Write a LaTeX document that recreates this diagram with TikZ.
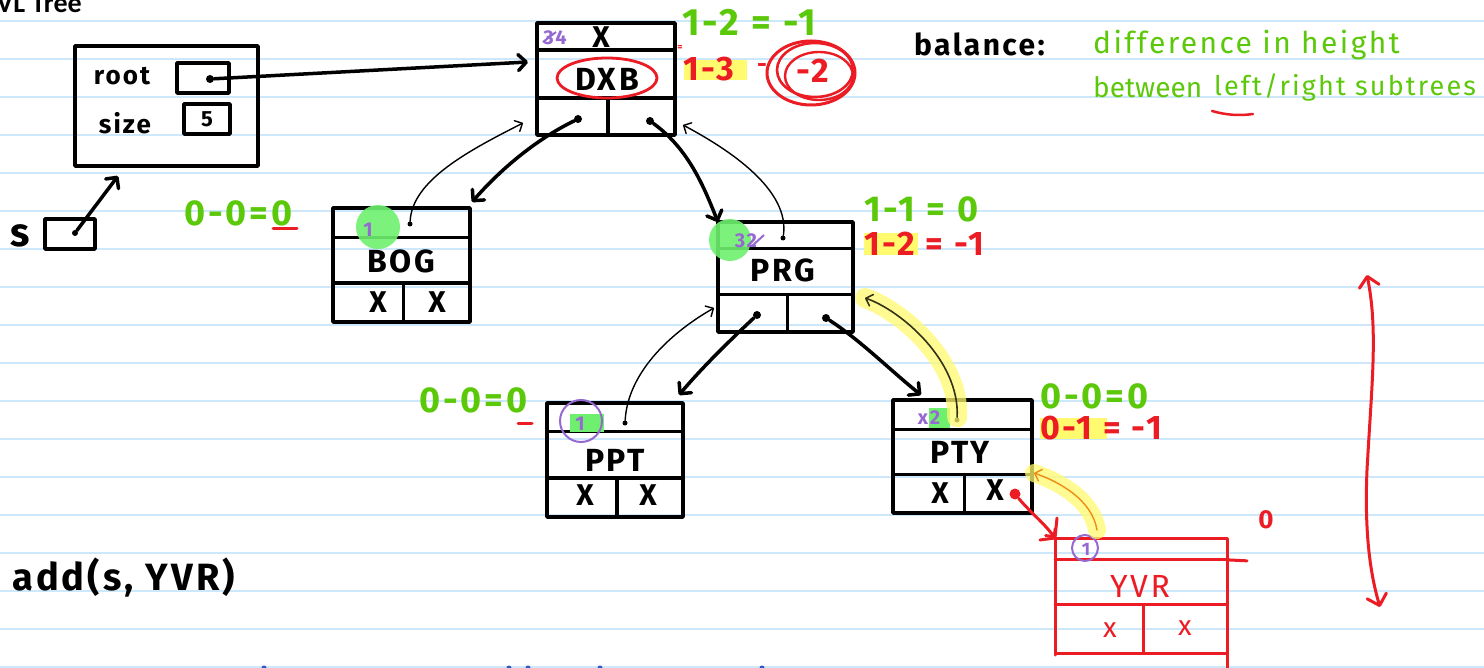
\documentclass[tikz,border=0pt]{standalone}
\usepackage{fontspec}
\setmainfont{Fira Sans}
\newfontfamily\hand{Fira Sans}[LetterSpace=8.0]
\newfontfamily\titlefont{Carlito}
\usetikzlibrary{calc,arrows.meta}

\definecolor{inkgreen}{RGB}{92,200,10}
\definecolor{inkred}{RGB}{236,28,36}
\definecolor{inkpurple}{RGB}{150,105,210}
\definecolor{inkorange}{RGB}{240,140,20}
\definecolor{inkblue}{RGB}{40,90,200}
\definecolor{hlyellow}{RGB}{255,250,110}
\definecolor{hlgreen}{RGB}{110,240,110}
\definecolor{ruled}{RGB}{205,232,250}

\newcommand\hw[1]{\hand\fontsize{#1}{#1}\selectfont}

\tikzset{
  ink/.style={line width=3.5pt, line cap=round, line join=round},
  blackbox/.style={draw=black, ink},
  redbox/.style={draw=inkred, line width=3pt, line cap=round, line join=round},
  thinink/.style={line width=1.4pt, line cap=round},
  barb/.style={-{Straight Barb[length=8pt,width=16pt,round]}},
  smallbarb/.style={-{Straight Barb[length=6pt,width=12pt,round]}},
  dot/.style={circle, fill, inner sep=0pt, minimum size=8pt},
  pin/.style={circle, fill, inner sep=0pt, minimum size=5pt},
  txt/.style={inner sep=0pt},
  nullx/.style={txt, font=\bfseries\hw{30}},
  geq/.style={txt, anchor=west, text=inkgreen, font=\bfseries\hw{36}},
  req/.style={txt, anchor=west, text=inkred, font=\bfseries\hw{34}},
  keytext/.style={txt, font=\bfseries\hw{32}},
}

% tree node: name, left, top, width, height, style, first divider, second divider
\newcommand\avlnode[8]{%
  \node[#6, minimum width=#4, minimum height=#5, anchor=north west,
        inner sep=0pt, outer sep=0pt] (#1) at (#2,#3) {};
  \draw[#6] ($(#1.north west)!#7!(#1.south west)$) -- ($(#1.north east)!#7!(#1.south east)$);
  \draw[#6] ($(#1.north west)!#8!(#1.south west)$) -- ($(#1.north east)!#8!(#1.south east)$);
  \draw[#6] ($(#1.south west)!0.515!(#1.south east)$) -- ++(0,{-(1-#8)*#5});
}

\begin{document}
\begin{tikzpicture}[x=1pt,y=-1pt]
\useasboundingbox (0,0) rectangle (1484,668);
\clip (0,0) rectangle (1484,668);
\fill[white] (0,0) rectangle (1484,668);

% ruled paper
\foreach \k in {0,...,17}
  \draw[ruled, line width=1.5pt] (0,{21+38*\k}) -- (1484,{21+38*\k});

% page heading
\node[txt, anchor=base west, font=\titlefont\bfseries\fontsize{28}{28}\selectfont] (title) at (-19,13) {AVL Tree};

% ---------- the tree object and its reference ----------
\node[blackbox, minimum width=183, minimum height=120, anchor=north west,
      inner sep=0pt, outer sep=0pt] (bst) at (75,46) {};
\node[txt, font=\bfseries\hw{26}] (rootlbl) at (122,76) {root};
\node[txt, font=\bfseries\hw{26}] (sizelbl) at (125,123) {size};
\node[blackbox, minimum width=52, minimum height=30, inner sep=0pt] (rootslot) at (203,78) {};
\node[dot] (rootdot) at (210,79) {};
\node[blackbox, minimum width=46, minimum height=30, inner sep=0pt, font=\bfseries\hw{22}] (sizeslot) at (207,119) {5};

\node[txt, font=\bfseries\hw{40}] (slbl) at (20,236) {s};
\node[blackbox, minimum width=50, minimum height=30, inner sep=0pt] (sbox) at (70,234) {};
\node[dot, minimum size=6pt] (sdot) at (75,233) {};
\coordinate (sref) at (118,176);
\draw[ink, barb] (sdot) -- (sref);

% ---------- tree nodes ----------
\avlnode{dxb}{537}{23}{138}{112}{blackbox}{0.24}{0.67}
\avlnode{bog}{333}{208}{137}{114}{blackbox}{0.26}{0.66}
\avlnode{prg}{718}{222}{135}{110}{blackbox}{0.24}{0.66}
\avlnode{ppt}{547}{403}{136}{114}{blackbox}{0.25}{0.66}
\avlnode{pty}{893}{400}{139}{113}{blackbox}{0.26}{0.66}
\avlnode{yvr}{1055}{538}{172}{115}{redbox}{0.19}{0.58}

% root pointer
\coordinate (rootin) at (528,62);
\draw[ink, barb] (rootdot) -- (rootin);

% DXB contents
\node[txt, text=inkpurple, font=\bfseries\hw{20}] (dxbh) at (555,38) {34};
\draw[inkpurple, line width=2pt] (543,42) -- (556,32);
\node[nullx] (dxbpar) at (601,37) {X};
\node[keytext] (dxbkey) at (607,79) {DXB};
\draw[inkred, line width=2.8pt] (607,78) ellipse [x radius=50, y radius=20];
\node[dot] (dxbL) at (578,119) {};
\node[dot] (dxbR) at (650,121) {};

% DXB balance notes
\node[geq, font=\bfseries\hw{38}] (dxbeq1) at (682,22) {1-2 = -1};
\node[txt, text=inkred, font=\bfseries\fontsize{10}{10}\selectfont] (dxbeqmark) at (680,48) {=};
\fill[hlyellow] (684,60) rectangle (747,80);
\node[req] (dxbeq2) at (683,69) {1-3};
\node[txt, text=inkred, font=\bfseries\hw{24}] (dxbeqsign) at (762,68) {-};
\node[txt, text=inkred, font=\bfseries\hw{34}] (dxbbal) at (813,71) {-2};
\draw[inkred, line width=3pt] (811,73) ellipse [x radius=44, y radius=32];
\draw[inkred, line width=2.6pt] (815,70) ellipse [x radius=38, y radius=27];
\draw[inkred, line width=2.4pt] (819,76) ellipse [x radius=34, y radius=24];

% definition of balance
\node[txt, anchor=west, font=\bfseries\hw{30}] (baldef) at (914,44) {balance:};
\node[txt, anchor=west, text=inkgreen, font=\hw{30}] (baltext1) at (1093,45) {difference in height};
\node[txt, anchor=west, text=inkgreen, font=\fontsize{28}{28}\selectfont] (baltext2) at (1093,87) {between};
\node[txt, anchor=west, text=inkgreen, font=\hw{27}] (baltext3) at (1214,87) {left/right subtrees};
\draw[inkred, line width=2.5pt, line cap=round] (1212,111) .. controls (1226,115) and (1239,116) .. (1253,114);

% BOG contents
\fill[hlgreen, opacity=0.9] (378,227) circle [radius=22];
\node[txt, text=inkpurple, font=\bfseries\hw{20}] (bogh) at (368,230) {1};
\node[pin] (bogdot) at (410,224) {};
\node[keytext] (bogkey) at (401,261) {BOG};
\node[nullx] (bogl) at (378,302) {X};
\node[nullx] (bogr) at (437,302) {X};
\node[geq] (bogeq) at (184,213) {0-0=0};
\draw[inkred, line width=3pt, line cap=round] (273,229) -- (297,229);

% PRG contents
\fill[hlgreen, opacity=0.9] (730,240) circle [radius=21];
\node[txt, text=inkpurple, font=\bfseries\hw{20}] (prgh) at (746,241) {32};
\draw[inkpurple, line width=2pt] (752,246) -- (764,235);
\node[pin] (prgdot) at (783,238) {};
\node[keytext] (prgkey) at (783,270) {PRG};
\node[dot] (prgL) at (757,315) {};
\node[dot] (prgR) at (826,318) {};
\node[geq] (prgeq1) at (864,209) {1-1 = 0};
\fill[hlyellow] (864,233) rectangle (918,255);
\node[req] (prgeq2) at (864,244) {1-2 = -1};

% PPT contents
\fill[hlgreen] (570,414) rectangle (604,432);
\draw[inkpurple, line width=2pt] (581,421) circle [radius=21];
\node[txt, text=inkpurple, font=\bfseries\hw{20}] (ppth) at (580,424) {1};
\node[pin] (pptdot) at (625,423) {};
\node[keytext] (pptkey) at (615,460) {PPT};
\node[nullx] (pptl) at (585,495) {X};
\node[nullx] (pptr) at (648,495) {X};
\node[geq] (ppteq) at (419,400) {0-0=0};
\draw[inkred, line width=3pt, line cap=round] (518,423) -- (532,423);

% PTY contents
\fill[hlgreen] (929,408) rectangle (950,428);
\node[txt, text=inkpurple, font=\bfseries\hw{20}] (ptyh) at (929,418) {x2};
\node[pin] (ptydot) at (957,420) {};
\node[keytext] (ptykey) at (960,452) {PTY};
\node[nullx] (ptyl) at (940,493) {X};
\node[nullx] (ptyr) at (995,490) {X};
\node[circle, fill=inkred, inner sep=0pt, minimum size=11pt] (ptynew) at (1015,494) {};
\node[geq] (ptyeq1) at (1040,396) {0-0=0};
\fill[hlyellow] (1040,418) rectangle (1107,439);
\node[req] (ptyeq2) at (1040,428) {0-1 = -1};

% YVR contents (new node)
\draw[redbox] (1040,540) -- (yvr.north west);
\draw[redbox] (1057,518) -- (yvr.north west);
\draw[redbox] (yvr.south west) -- ++(0,2);
\draw[redbox] ($(yvr.north east)!0.19!(yvr.south east)$) -- ++(20,1);
\draw[redbox] (yvr.south east) -- ++(0,15);
\draw[inkpurple, line width=2pt] (1085,548) circle [radius=13];
\node[txt, text=inkpurple, font=\bfseries\hw{18}] (yvrh) at (1086,549) {1};
\node[txt, text=inkred, font=\hw{32}] (yvrkey) at (1140,586) {YVR};
\node[txt, text=inkred, font=\hw{28}] (yvrl) at (1110,630) {x};
\node[txt, text=inkred, font=\hw{28}] (yvrr) at (1185,628) {x};
\node[txt, text=inkred, font=\bfseries\hw{26}] (yvreq) at (1266,520) {0};

% ---------- child pointers ----------
\coordinate (bogin) at ($(bog.north east)+(2,-6)$);
\draw[ink, barb] (dxbL) .. controls (535,140) and (500,170) .. (bogin);
\draw[ink, barb] (dxbR) .. controls (690,150) and (705,190) .. (prg.north west);
\coordinate (pptin) at ($(ppt.north east)+(-4,-8)$);
\draw[ink, barb] (prgL) .. controls (725,345) and (700,370) .. (pptin);
\coordinate (ptyin) at ($(pty.north west)+(28,-5)$);
\draw[ink, barb] (prgR) .. controls (860,340) and (890,370) .. (ptyin);
\draw[inkred, line width=3pt, line cap=round, -{Straight Barb[length=6pt,width=12pt,round]}]
  (ptynew) .. controls (1030,512) and (1043,522) .. (yvr.north west);

% ---------- parent pointers ----------
\coordinate (dxbinL) at ($(dxb.south west)+(-14,-12)$);
\draw[thinink, smallbarb] (bogdot) .. controls (412,180) and (470,150) .. (dxbinL);
\coordinate (dxbinR) at ($(dxb.south east)+(8,-10)$);
\draw[thinink, smallbarb] (prgdot) .. controls (790,190) and (730,150) .. (dxbinR);
\coordinate (prginL) at ($(prg.south west)+(-4,-24)$);
\draw[thinink, smallbarb] (pptdot) .. controls (628,370) and (675,330) .. (prginL);

\coordinate (prginR) at ($(prg.south east)+(12,-34)$);
\draw[hlyellow, opacity=0.75, line width=20pt, line cap=round]
  (ptydot) .. controls (960,360) and (900,310) .. (prginR);
\draw[black!80!hlyellow, line width=1.6pt, line cap=round, smallbarb]
  (ptydot) .. controls (960,360) and (900,310) .. (prginR);

\coordinate (ptyinR) at ($(pty.south east)+(2,-40)$);
\draw[hlyellow, opacity=0.75, line width=18pt, line cap=round]
  (1097,530) .. controls (1092,500) and (1060,482) .. (ptyinR);
\draw[inkorange, line width=1.4pt, line cap=round, smallbarb]
  (1097,530) .. controls (1092,500) and (1060,482) .. (ptyinR);

% height marker
\coordinate (htop) at (1367,275);
\coordinate (hbot) at (1380,607);
\draw[inkred, line width=3pt, line cap=round,
      {Straight Barb[length=10pt,width=20pt,round]}-{Straight Barb[length=10pt,width=20pt,round]}]
  (htop) .. controls (1378,330) and (1372,380) .. (1367,470)
         .. controls (1364,540) and (1372,580) .. (hbot);

% the call being traced
\node[txt, anchor=west, font=\bfseries\hw{38}] (call) at (12,578) {add(s, YVR)};

% cut-off ink at the lower edge
\foreach \bx in {264,509,528,600,762}
  \fill[inkblue] (\bx,668) circle [radius=2.5];

\end{tikzpicture}
\end{document}
